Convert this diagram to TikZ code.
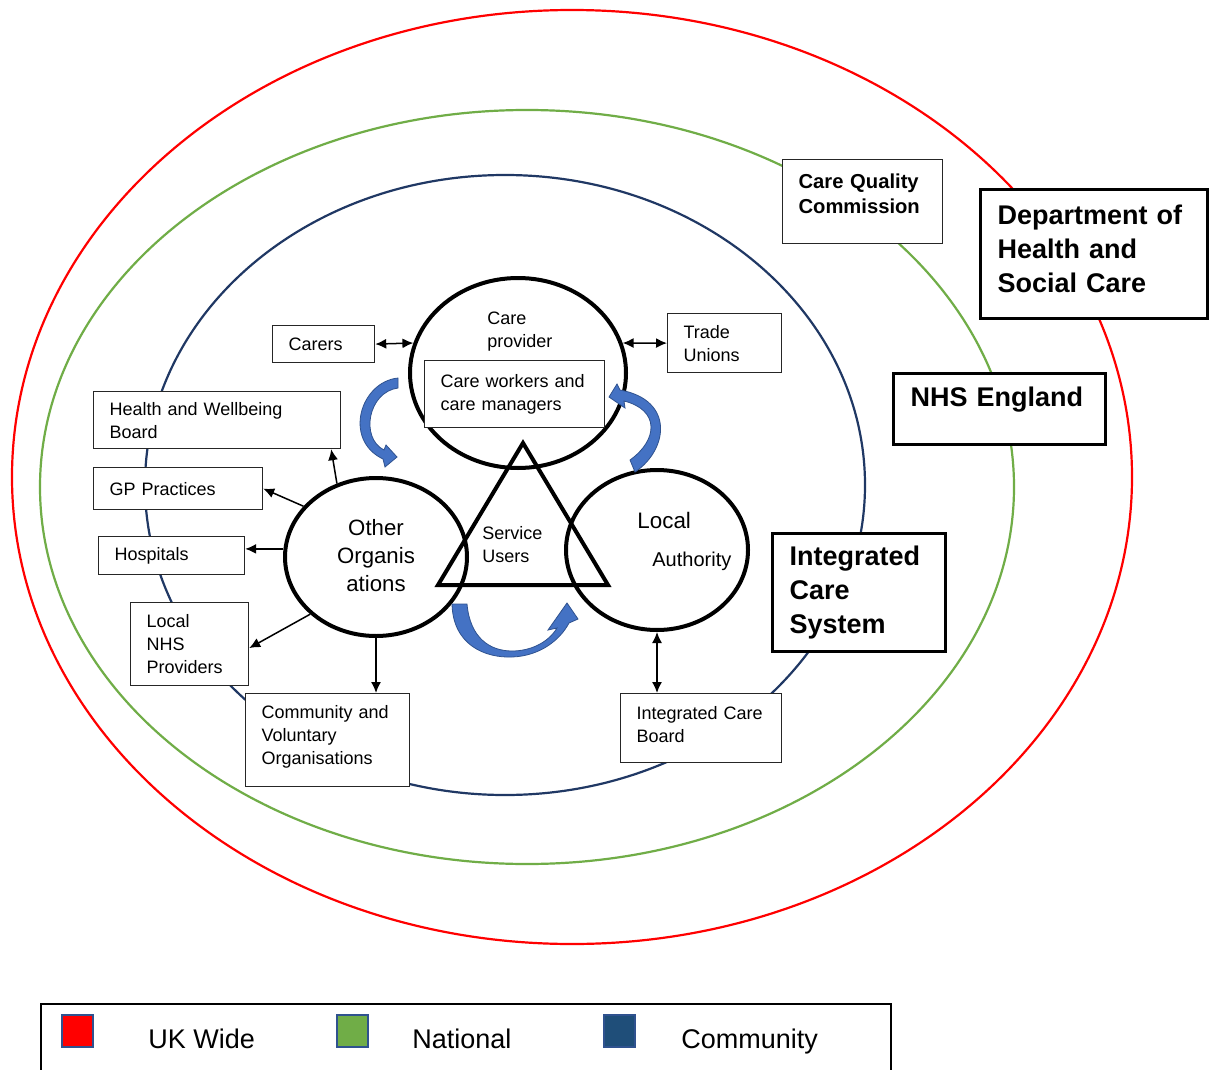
\documentclass[tikz,border=0pt]{standalone}
\usepackage{fontspec}
\setmainfont{Liberation Sans}
\usetikzlibrary{arrows.meta,shapes.geometric}
\definecolor{ukred}{HTML}{FF0000}
\definecolor{natgreen}{HTML}{70AD47}
\definecolor{commnavy}{HTML}{203864}
\definecolor{legnavy}{HTML}{1F4E79}
\definecolor{turnblue}{HTML}{4472C4}
\definecolor{turnedge}{HTML}{2F528F}

\begin{document}
\begin{tikzpicture}[x=0.5pt,y=-0.5pt,
  ring/.style={line width=1.1pt},
  box/.style={draw=black!85, line width=0.6pt, fill=white, anchor=north west,
    inner xsep=8pt, inner ysep=0pt, align=left, font=\fontsize{9}{11.5}\selectfont},
  bigbox/.style={draw=black, line width=1.6pt, fill=white, anchor=north west,
    inner xsep=8.5pt, inner ysep=0pt, align=left, font=\fontsize{13.5}{17}\selectfont\bfseries},
  org/.style={draw=black, line width=2pt, ellipse, inner sep=0pt},
  conn/.style={line width=0.75pt, -{Latex[length=5.5pt,width=5pt]}},
  both/.style={line width=0.75pt, {Latex[length=5.5pt,width=5pt]}-{Latex[length=5.5pt,width=5pt]}},
  turn/.style={fill=turnblue, draw=turnedge, line width=0.4pt},
  swatch/.style={draw=turnedge, line width=0.8pt},
  legtext/.style={anchor=base west, inner sep=0pt, font=\fontsize{13.5}{15}\selectfont}
]
\useasboundingbox (0,0) rectangle (1210,1070);
\fill[white] (0,0) rectangle (1210,1070);

% the three levels of the system
\draw[ring, ukred] (572,477) ellipse [x radius=560, y radius=467];
\draw[ring, natgreen] (527,487) ellipse [x radius=487, y radius=377];
\draw[ring, commnavy] (505,485) ellipse [x radius=360, y radius=310];

% national and UK-wide bodies
\node[box, font=\fontsize{10.1}{12.5}\selectfont\bfseries, text width=64pt, minimum height=42pt, text depth=20.5pt] (cqc) at (782,159) {Care Quality\\Commission};
\node[bigbox, text width=96.5pt, minimum height=64.5pt, text depth=39.5pt] (dhsc) at (979,188) {Department of\\Health and\\Social Care};
\node[bigbox, text width=89pt, minimum height=35.5pt, text depth=12pt] (nhse) at (892,372) {NHS England};
\node[bigbox, text width=69.5pt, minimum height=59pt] (ics) at (771,532) {Integrated\\Care\\System};

% community-level partners
\node[box, text width=35pt, minimum height=18.5pt] (carers) at (272,325) {Carers};
\node[box, text width=41pt, minimum height=29.5pt] (tu) at (667,313) {Trade\\Unions};
\node[box, text width=107.5pt, minimum height=28.5pt] (hwb) at (93,391) {Health and Wellbeing\\Board};
\node[box, text width=68.5pt, minimum height=21pt] (gp) at (93,467) {GP Practices};
\node[box, text width=57pt, minimum height=19pt] (hosp) at (98,536) {Hospitals};
\node[box, text width=43pt, minimum height=41.5pt] (lnhs) at (130,602) {Local\\NHS\\Providers};
\node[box, text width=66pt, minimum height=46.5pt, text depth=28pt] (comm) at (245,693) {Community and\\Voluntary\\Organisations};
\node[box, text width=64.5pt, minimum height=34.5pt, text depth=15pt] (icb) at (620,693) {Integrated Care\\Board};

% the three organisations around the service users
\node[org, minimum width=108pt, minimum height=95pt] (cp) at (518,373) {};
\node[org, minimum width=91pt, minimum height=79pt] (oth) at (376,557) {};
\node[org, minimum width=91pt, minimum height=80pt] (la) at (657,550) {};

\node[box, text width=74pt, minimum height=33.5pt] (cwm) at (424,360) {Care workers and\\care managers};

\node[anchor=west, align=left, inner sep=0pt, font=\fontsize{9}{11.5}\selectfont] (cptext) at (487,332) {Care\\provider};
\node[align=center, inner sep=0pt, font=\fontsize{11.1}{14}\selectfont] (othtext) at (376,556) {Other\\Organis\\ations};
\node[anchor=west, inner sep=0pt, font=\fontsize{11.2}{14}\selectfont] (latop) at (637,520) {Local};
\node[anchor=west, inner sep=0pt, font=\fontsize{10}{12}\selectfont] (labot) at (652,561) {Authority};

% service users
\draw[line width=2pt, line join=miter] (523,443) -- (608,585) -- (438,585) -- cycle;
\node[anchor=west, align=left, inner sep=0pt, font=\fontsize{9}{11.5}\selectfont] (sutext) at (482,545) {Service\\Users};

% links
\draw[conn] (oth.118) -- ([xshift=-5pt]hwb.south east);
\draw[conn] (oth.145) -- (gp.east);
\draw[conn] (oth.175) -- (oth.175 -| hosp.east);
\draw[conn] (oth.221) -- ([yshift=-2pt]lnhs.east);
\draw[conn] (oth.south) -- (oth.south |- comm.north);
\draw[both] (la.south) -- (la.south |- icb.north);
\draw[both] (carers.east) -- (cp.164);
\draw[both] (tu.west) -- (cp.16);

% circulating block arrows
\filldraw[turn] (398,378) .. controls (360,382) and (343,440) .. (383,459)
  -- (385,467) -- (397,457) -- (386,445) -- (384,450)
  .. controls (360,438) and (368,392) .. (398,388) -- cycle;
\filldraw[turn] (635,472) .. controls (668,450) and (675,400) .. (620,390)
  -- (617,384) -- (609,397) -- (625,408) -- (624,401)
  .. controls (660,410) and (658,440) .. (630,460) -- cycle;
\filldraw[turn] (452,604) .. controls (453,645) and (485,658) .. (512,657)
  .. controls (540,656) and (560,640) .. (569,623)
  -- (578,619) -- (567,603) -- (548,630) -- (557,628)
  .. controls (548,643) and (530,651) .. (512,651)
  .. controls (490,651) and (470,638) .. (467,604) -- cycle;

% legend
\draw[line width=0.9pt] (41,1070) -- (41,1004) -- (891,1004) -- (891,1070);
\draw[swatch, fill=ukred] (62,1015) rectangle (93,1047);
\draw[swatch, fill=natgreen] (337,1015) rectangle (368,1047);
\draw[swatch, fill=legnavy] (604,1015) rectangle (635,1047);
\node[legtext] (lguk) at (148,1048) {UK Wide};
\node[legtext] (lgnat) at (412,1048) {National};
\node[legtext] (lgcom) at (681,1048) {Community};
\end{tikzpicture}
\end{document}
